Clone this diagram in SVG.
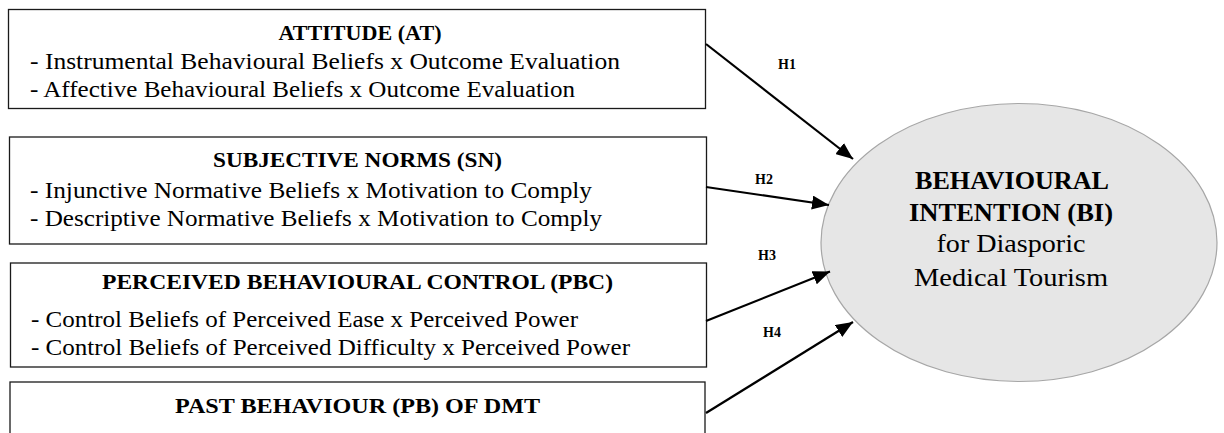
<svg xmlns="http://www.w3.org/2000/svg" width="1224" height="433" viewBox="0 0 1224 433">
<style>
.box{fill:#fff;stroke:#1a1a1a;stroke-width:1.3}
.t{font-family:"Liberation Serif","Times New Roman",serif;fill:#000}
.ti{font-size:20px;font-weight:bold;text-anchor:middle}
.ln{font-size:22.5px}
.el{font-size:25px;text-anchor:middle}
.b{font-weight:bold}
.lab{font-family:"Liberation Serif","Times New Roman",serif;font-size:14px;font-weight:bold;fill:#000}
.con{stroke:#000;stroke-width:2.2;fill:none;marker-end:url(#ah)}
</style>
<defs>
<marker id="ah" markerUnits="userSpaceOnUse" markerWidth="18" markerHeight="14" refX="17" refY="7" orient="auto">
<path d="M0,0 L17,7 L0,14 z" fill="#000"/>
</marker>
</defs>
<rect width="1224" height="433" fill="#fff"/>
<g id="node-at">
<rect class="box" x="8.5" y="9.5" width="697" height="99"/>
<text class="t ti" x="360" y="40" textLength="163" lengthAdjust="spacingAndGlyphs">ATTITUDE (AT)</text>
<text class="t ln" x="30" y="69" textLength="590" lengthAdjust="spacingAndGlyphs">- Instrumental Behavioural Beliefs x Outcome Evaluation</text>
<text class="t ln" x="30" y="97" textLength="545" lengthAdjust="spacingAndGlyphs">- Affective Behavioural Beliefs x Outcome Evaluation</text>
</g>
<g id="node-sn">
<rect class="box" x="9.5" y="137" width="697" height="107"/>
<text class="t ti" x="357.5" y="167" textLength="289" lengthAdjust="spacingAndGlyphs">SUBJECTIVE NORMS (SN)</text>
<text class="t ln" x="30" y="198" textLength="562" lengthAdjust="spacingAndGlyphs">- Injunctive Normative Beliefs x Motivation to Comply</text>
<text class="t ln" x="30" y="226" textLength="572" lengthAdjust="spacingAndGlyphs">- Descriptive Normative Beliefs x Motivation to Comply</text>
</g>
<g id="node-pbc">
<rect class="box" x="10.5" y="263" width="696" height="104"/>
<text class="t ti" x="357.5" y="289" textLength="511" lengthAdjust="spacingAndGlyphs">PERCEIVED BEHAVIOURAL CONTROL (PBC)</text>
<text class="t ln" x="31" y="327" textLength="547" lengthAdjust="spacingAndGlyphs">- Control Beliefs of Perceived Ease x Perceived Power</text>
<text class="t ln" x="31" y="355" textLength="599" lengthAdjust="spacingAndGlyphs">- Control Beliefs of Perceived Difficulty x Perceived Power</text>
</g>
<g id="node-pb">
<rect class="box" x="10" y="382" width="695" height="70"/>
<text class="t ti" x="357.5" y="413" textLength="365" lengthAdjust="spacingAndGlyphs">PAST BEHAVIOUR (PB) OF DMT</text>
</g>
<g id="node-bi">
<ellipse cx="1019" cy="242.5" rx="198" ry="139" fill="#e6e6e6" stroke="#a6a6a6" stroke-width="1.2"/>
<text class="t el b" x="1012" y="189" textLength="194" lengthAdjust="spacingAndGlyphs">BEHAVIOURAL</text>
<text class="t el b" x="1011" y="221" textLength="204" lengthAdjust="spacingAndGlyphs">INTENTION (BI)</text>
<text class="t el" x="1011" y="252" textLength="149" lengthAdjust="spacingAndGlyphs">for Diasporic</text>
<text class="t el" x="1011" y="286" textLength="194" lengthAdjust="spacingAndGlyphs">Medical Tourism</text>
</g>
<g id="connectors">
<line class="con" x1="706" y1="44" x2="853" y2="159"/>
<line class="con" x1="706" y1="187" x2="829" y2="205"/>
<line class="con" x1="706" y1="321" x2="830" y2="271.5"/>
<line class="con" x1="706" y1="413" x2="853" y2="322"/>
<text class="lab" x="778" y="69">H1</text>
<text class="lab" x="755" y="184">H2</text>
<text class="lab" x="758" y="260">H3</text>
<text class="lab" x="763" y="337">H4</text>
</g>
</svg>
